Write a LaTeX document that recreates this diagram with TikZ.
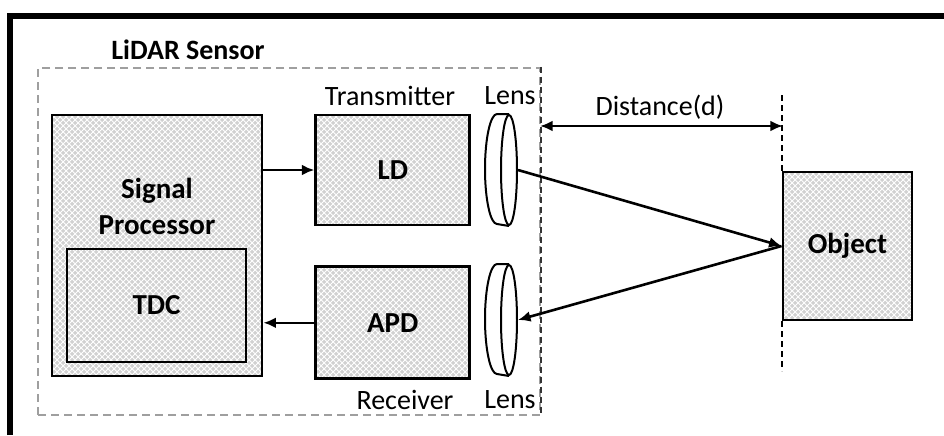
\documentclass[tikz,border=0pt]{standalone}
\usepackage{fontspec}
\setmainfont{Carlito}
\usetikzlibrary{arrows.meta,positioning,patterns,shapes.geometric}

\begin{document}
\begin{tikzpicture}[
    x=0.5pt, y=-0.5pt,
    block/.style={draw=black, line width=1.4pt, preaction={fill=gray!36},
      pattern=crosshatch, pattern color=white, inner sep=0pt, align=center,
      font=\fontsize{14.5}{18}\selectfont\bfseries},
    boldlbl/.style={inner sep=0pt, align=center, font=\fontsize{14.5}{18}\selectfont\bfseries},
    lbl/.style={inner sep=0pt, font=\fontsize{14}{15}\selectfont},
    sensorbox/.style={draw=gray!75, line width=1.1pt, dash pattern=on 4pt off 2.5pt,
      minimum width=251pt, minimum height=173.5pt, inner sep=0pt},
    refline/.style={line width=1.1pt, dash pattern=on 3pt off 2pt},
    lensface/.style={ellipse, draw, line width=1pt, fill=white, minimum width=8pt,
      minimum height=55pt, inner sep=0pt},
    lensbody/.style={line width=1pt},
    arrow/.style={-{Latex[length=2.2mm,width=1.9mm]}, line width=1.3pt},
    twoway/.style={{Latex[length=2.2mm,width=1.9mm]}-{Latex[length=2.2mm,width=1.9mm]}, line width=1.3pt}
  ]
    \useasboundingbox (0,0) rectangle (944,435);
    % outer frame (cut off at right and bottom)
    \draw[line width=2.8pt] (10,435) -- (10,16) -- (944,16);

    % sensor enclosure
    \node[sensorbox] (sensor) at (289,241.5) {};
    \draw[refline, draw=gray!40!black] (sensor.north east) -- (sensor.south east);
    \node[lbl, font=\fontsize{14}{15}\selectfont\bfseries] (title) at (188,50) {LiDAR Sensor};

    % blocks
    \node[block, minimum width=105pt, minimum height=130.5pt] (sp) at (157,245.5) {};
    \node[boldlbl] (splabel) at (157,206) {Signal\\Processor};
    \node[block, minimum width=89.5pt, minimum height=56.5pt] (tdc) at (156.5,305.5) {TDC};
    \node[block, minimum width=77pt, minimum height=55pt, right=25.5pt of sp.north east,
      anchor=north west] (ld) {LD};
    \node[block, minimum width=77pt, minimum height=56pt, below=19.5pt of ld] (apd) {APD};
    \node[block, minimum width=64.5pt, minimum height=74pt] (obj) at (847.5,246) {Object};

    % lenses
    \node[lensface] (lens1) at (509,170) {};
    \node[lensface] (lens2) at (509,320) {};
    \draw[lensbody] (lens1.north) -- ++(-12,0)
      arc[start angle=90, end angle=270, x radius=6pt, y radius=27.5pt] -- (lens1.south);
    \draw[lensbody] (lens2.north) -- ++(-12,0)
      arc[start angle=90, end angle=270, x radius=6pt, y radius=27.5pt] -- (lens2.south);

    % labels
    \node[lbl] (txlbl) at (390,96) {Transmitter};
    \node[lbl] (lenstop) at (510,96) {Lens};
    \node[lbl] (rxlbl) at (405,400) {Receiver};
    \node[lbl] (lensbot) at (510,400) {Lens};

    % distance marker
    \draw[refline] (obj.north west) -- ++(0,-77);
    \draw[refline] (obj.south west) -- ++(0,50);
    \coordinate (dstart) at (540,126);
    \coordinate (dend) at (783,126);
    \draw[twoway] (dstart) -- (dend);
    \node[lbl] (dlbl) at (660,107) {Distance(d)};

    % signal paths
    \draw[arrow] (sp.east |- ld.west) -- (ld.west);
    \draw[arrow] (apd.west) -- (sp.east |- apd.west);
    \draw[arrow] (lens1.east) -- (obj.west);
    \draw[arrow] (obj.west) -- (lens2.east);
\end{tikzpicture}
\end{document}
